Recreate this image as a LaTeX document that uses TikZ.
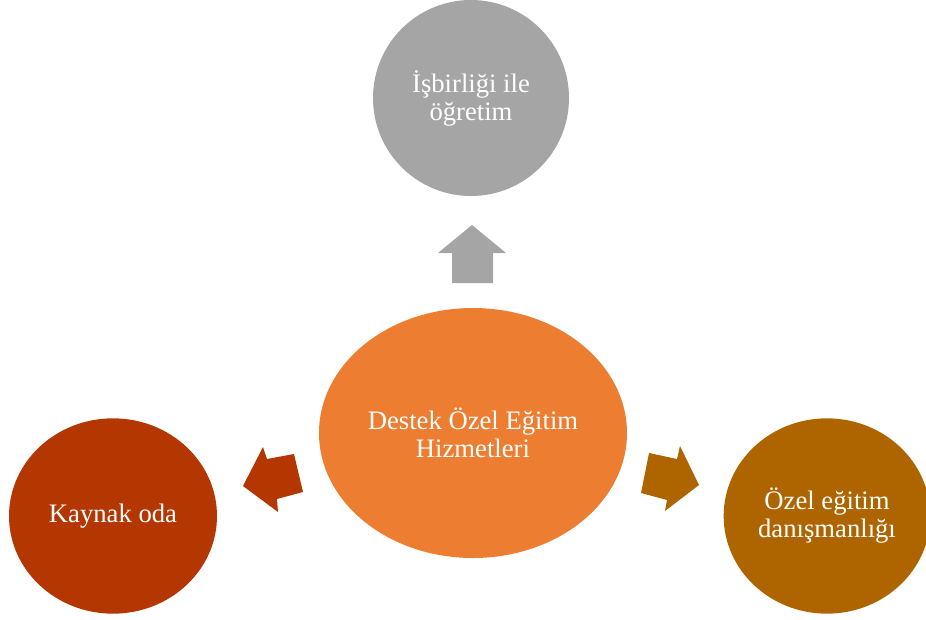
\documentclass[tikz,border=0pt]{standalone}
\usepackage{fontspec}
\setmainfont{Liberation Serif}
\usetikzlibrary{shapes.geometric}
\definecolor{cgrey}{HTML}{A5A5A5}
\definecolor{corange}{HTML}{ED7D31}
\definecolor{crust}{HTML}{B43600}
\definecolor{cbrown}{HTML}{AE6500}
\begin{document}
\begin{tikzpicture}[x=0.75pt,y=-0.75pt,
  bubble/.style={ellipse,inner sep=0pt,text=white,align=center,
    font=\fontsize{20pt}{21pt}\selectfont},
  blockarrow/.style={draw=none}]
\useasboundingbox (0,0) rectangle (926,619);

% central ellipse and the three satellites
\node[bubble,fill=corange,minimum width=231pt,minimum height=187.5pt] (hub) at (473,433)
  {Destek Özel Eğitim\\Hizmetleri};
\node[bubble,fill=cgrey,minimum width=147pt,minimum height=147pt] (top) at (471,98)
  {İşbirliği ile\\öğretim};
\node[bubble,fill=crust,minimum width=156pt,minimum height=146.5pt] (left) at (113,516)
  {Kaynak oda};
\node[bubble,fill=cbrown,minimum width=155pt,minimum height=146.5pt] (right) at (827,516)
  {Özel eğitim\\danışmanlığı};

% block arrows pointing outwards from the hub
\fill[cgrey] (452,283) -- (452,253) -- (438,253) -- (472,225) -- (506,253)
  -- (493,253) -- (493,283) -- cycle;
\fill[crust] (303,492) -- (277,499) -- (278,512) -- (243,486) -- (263,447)
  -- (267,459) -- (294,454) -- cycle;
\fill[cbrown] (641,493) -- (649,453) -- (677,459) -- (680,446) -- (699,485)
  -- (665,511) -- (667,500) -- cycle;
\end{tikzpicture}
\end{document}
